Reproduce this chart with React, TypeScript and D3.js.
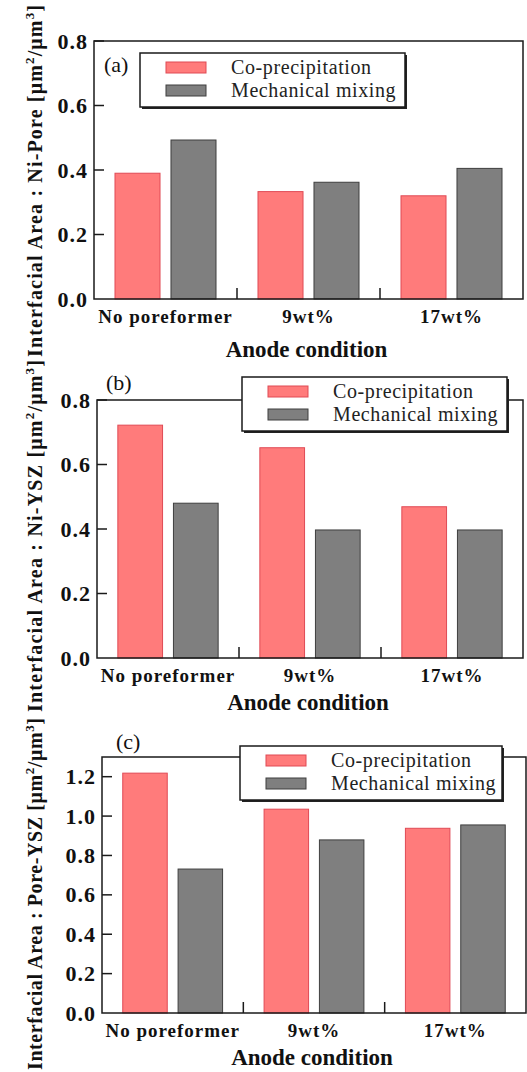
import React from "react";
import * as d3 from "d3";

const categories = ["No poreformer", "9wt%", "17wt%"];
const seriesNames = ["Co-precipitation", "Mechanical mixing"];

const niPoreCo = [0.39, 0.333, 0.32];
const niPoreMech = [0.493, 0.362, 0.405];
const niYszCo = [0.722, 0.652, 0.469];
const niYszMech = [0.48, 0.397, 0.397];
const poreYszCo = [1.218, 1.035, 0.938];
const poreYszMech = [0.731, 0.879, 0.955];

const ticksA = [0, 0.2, 0.4, 0.6, 0.8];
const ticksB = [0, 0.2, 0.4, 0.6, 0.8];
const ticksC = [0, 0.2, 0.4, 0.6, 0.8, 1.0, 1.2];

const FONT = "'Liberation Serif', 'Times New Roman', serif";
const RED = "#ff7b7b";
const RED_STROKE = "#e04a55";
const GREY = "#7f7f7f";
const GREY_STROKE = "#3f3f3f";

type PanelProps = {
  tag: string;
  measure: string;
  co: number[];
  mech: number[];
  ticks: number[];
  yMax: number;
  left: number;
  right: number;
  top: number;
  bottom: number;
  legendX: number;
  legendY: number;
  legendW: number;
  tagX: number;
  tagY: number;
  titleOffset: number;
  labelCenter: number;
};

function Panel(p: PanelProps) {
  const x = d3.scaleBand<string>().domain(categories).range([p.left, p.right]).padding(0);
  const inner = d3
    .scaleBand<string>()
    .domain(seriesNames)
    .range([0, x.bandwidth()])
    .paddingInner(0.196)
    .paddingOuter(0.375);
  const y = d3.scaleLinear().domain([0, p.yMax]).range([p.bottom, p.top]);
  const vals = [p.co, p.mech];
  const fills = [RED, GREY];
  const strokes = [RED_STROKE, GREY_STROKE];
  const midX = (p.left + p.right) / 2;
  return (
    <g>
      {/* bars */}
      {categories.map((c, i) =>
        seriesNames.map((s, j) => (
          <rect
            key={c + s}
            x={(x(c) as number) + (inner(s) as number)}
            y={y(vals[j][i])}
            width={inner.bandwidth()}
            height={p.bottom - y(vals[j][i])}
            fill={fills[j]}
            stroke={strokes[j]}
            strokeWidth={1}
          />
        ))
      )}
      {/* frame */}
      <rect
        x={p.left}
        y={p.top}
        width={p.right - p.left}
        height={p.bottom - p.top}
        fill="none"
        stroke="#1a1a1a"
        strokeWidth={1.5}
      />
      {/* y ticks */}
      {p.ticks.map((t) => (
        <g key={t}>
          {t > 0 && (
            <line x1={p.left} x2={p.left + 10} y1={y(t)} y2={y(t)} stroke="#1a1a1a" strokeWidth={1.5} />
          )}
          <text
            x={p.left - 6}
            y={y(t) + 7.5}
            textAnchor="end"
            fontFamily={FONT}
            fontWeight="bold"
            fontSize={22}
            letterSpacing={1}
            fill="#111"
          >
            {t.toFixed(1)}
          </text>
        </g>
      ))}
      {/* x minor ticks at band boundaries */}
      {categories.slice(1).map((c) => (
        <line
          key={c}
          x1={x(c) as number}
          x2={x(c) as number}
          y1={p.bottom}
          y2={p.bottom - 11}
          stroke="#1a1a1a"
          strokeWidth={1.5}
        />
      ))}
      {/* x labels */}
      {categories.map((c) => (
        <text
          key={c}
          x={(x(c) as number) + x.bandwidth() / 2}
          y={p.bottom + 24}
          textAnchor="middle"
          fontFamily={FONT}
          fontWeight="bold"
          fontSize={19}
          letterSpacing={1}
          fill="#111"
        >
          {c}
        </text>
      ))}
      <text
        x={midX - 2}
        y={p.bottom + p.titleOffset}
        textAnchor="middle"
        fontFamily={FONT}
        fontWeight="bold"
        fontSize={23}
        fill="#111"
      >
        Anode condition
      </text>
      {/* y label */}
      <text
        transform={`translate(42,${p.labelCenter}) rotate(-90)`}
        textAnchor="middle"
        fontFamily={FONT}
        fontWeight="bold"
        fontSize={20}
        fill="#111"
        textLength={352}
        lengthAdjust="spacing"
      >
        {`Interfacial Area : ${p.measure} [μm`}
        <tspan dy={-8} fontSize={13}>2</tspan>
        <tspan dy={8}>/μm</tspan>
        <tspan dy={-8} fontSize={13}>3</tspan>
        <tspan dy={8}>]</tspan>
      </text>
      {/* tag */}
      <text x={p.tagX} y={p.tagY} fontFamily={FONT} fontSize={22} fill="#111">
        {p.tag}
      </text>
      {/* legend */}
      <rect x={p.legendX + 2} y={p.legendY + 2} width={p.legendW} height={54} fill="#222" />
      <rect
        x={p.legendX}
        y={p.legendY}
        width={p.legendW}
        height={54}
        fill="#fff"
        stroke="#1a1a1a"
        strokeWidth={1.5}
      />
      {seriesNames.map((s, j) => (
        <g key={s}>
          <rect
            x={p.legendX + 26}
            y={p.legendY + 9 + j * 23}
            width={40}
            height={11}
            fill={fills[j]}
            stroke={strokes[j]}
            strokeWidth={1}
          />
          <text
            x={p.legendX + 91}
            y={p.legendY + 21 + j * 23}
            fontFamily={FONT}
            fontSize={20}
            letterSpacing={0.6}
            fill="#222"
          >
            {s}
          </text>
        </g>
      ))}
    </g>
  );
}

export default function App() {
  return (
    <svg
      width={527}
      height={1072}
      style={{ position: "absolute", left: 0, top: 0, display: "block", background: "#fff" }}
    >
      <rect x={0} y={0} width={527} height={1072} fill="#fff" />
      <Panel
        tag="(a)"
        measure="Ni-Pore"
        co={niPoreCo}
        mech={niPoreMech}
        ticks={ticksA}
        yMax={0.8}
        left={94}
        right={523}
        top={41}
        bottom={299}
        legendX={140}
        legendY={53}
        legendW={265}
        tagX={104}
        tagY={72}
        titleOffset={58}
        labelCenter={181}
      />
      <Panel
        tag="(b)"
        measure="Ni-YSZ"
        co={niYszCo}
        mech={niYszMech}
        ticks={ticksB}
        yMax={0.8}
        left={97}
        right={523}
        top={400}
        bottom={658}
        legendX={242}
        legendY={377}
        legendW={265}
        tagX={106}
        tagY={390}
        titleOffset={52}
        labelCenter={536}
      />
      <Panel
        tag="(c)"
        measure="Pore-YSZ"
        co={poreYszCo}
        mech={poreYszMech}
        ticks={ticksC}
        yMax={1.3}
        left={102}
        right={526}
        top={757}
        bottom={1013}
        legendX={240}
        legendY={746}
        legendW={262}
        tagX={116}
        tagY={749}
        titleOffset={52}
        labelCenter={894}
      />
    </svg>
  );
}
